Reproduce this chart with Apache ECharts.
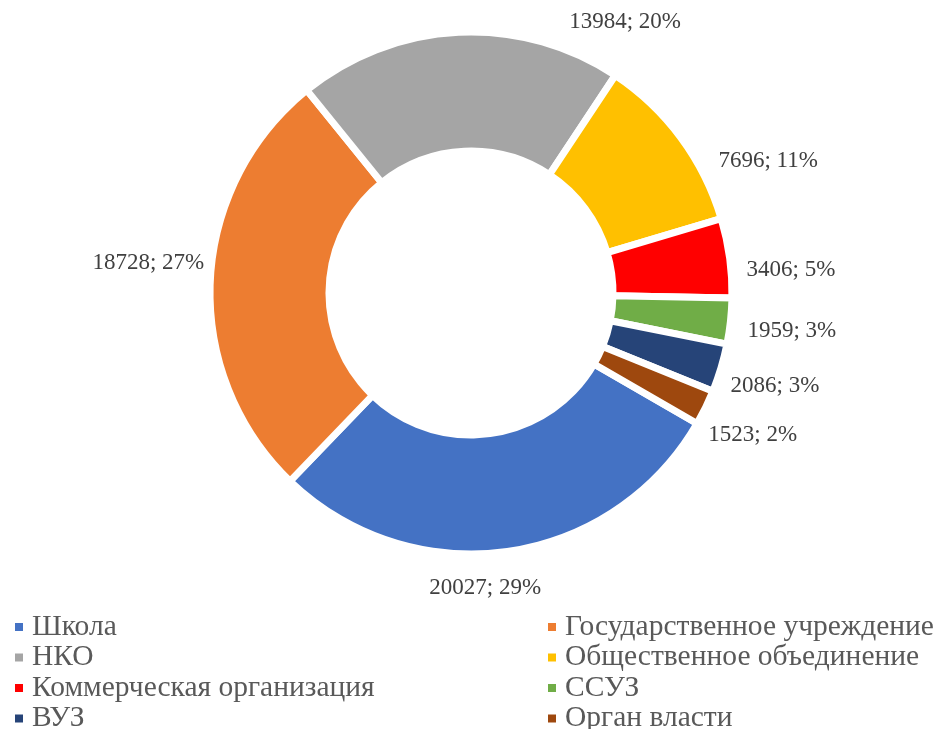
<!DOCTYPE html>
<html><head><meta charset="utf-8">
<script src="https://cdn.jsdelivr.net/npm/echarts@6/dist/echarts.min.js"></script>
<style>html,body{margin:0;padding:0;background:#fff}#c{width:938px;height:729px}</style>
</head><body><div id="c"></div>
<script>
var categories = ['Школа','Государственное учреждение','НКО','Общественное объединение','Коммерческая организация','ССУЗ','ВУЗ','Орган власти'];
var values = [20027,18728,13984,7696,3406,1959,2086,1523];
var colors = ['#4472C4','#ED7D31','#A5A5A5','#FFC000','#FF0000','#70AD47','#264478','#9E480E'];
var leftLegend = ['Школа','НКО','Коммерческая организация','ВУЗ'];
var rightLegend = ['Государственное учреждение','Общественное объединение','ССУЗ','Орган власти'];

// label nudges (layout only), same order as categories
var labelNudge = [[-85,25],[11,-18],[228,2],[23,30],[0,14],[0,8],[-7,15],[-13,22]];

var font = "'Liberation Serif', 'Times New Roman', serif";
var chart = echarts.init(document.getElementById('c'), null, {renderer:'canvas'});
var legendBase = {orient:'vertical', top:612, height:140, itemWidth:10, itemHeight:10, itemGap:0.5, icon:'rect', padding:0,
  textStyle:{fontFamily:font, fontSize:29.5, color:'#595959', padding:[0,0,0,3]}};
chart.setOption({
  animation:false,
  color: colors,
  legend:[
    Object.assign({left:13, data:leftLegend}, legendBase),
    Object.assign({left:546, data:rightLegend}, legendBase)
  ],
  series:[{
    type:'pie',
    center:[471,293],
    radius:[142,261],
    startAngle:-30,
    clockwise:true,
    avoidLabelOverlap:false,
    itemStyle:{borderColor:'#fff', borderWidth:7},
    label:{show:true, position:'outside', fontFamily:font, fontSize:23, color:'#404040',
      formatter:function(p){return p.value+'; '+Math.round(p.percent)+'%';}},
    labelLine:{show:false, length:12, length2:0},
    data: categories.map(function(n,i){return {name:n, value:values[i], label:{offset:labelNudge[i]}};})
  }]
});
</script></body></html>
